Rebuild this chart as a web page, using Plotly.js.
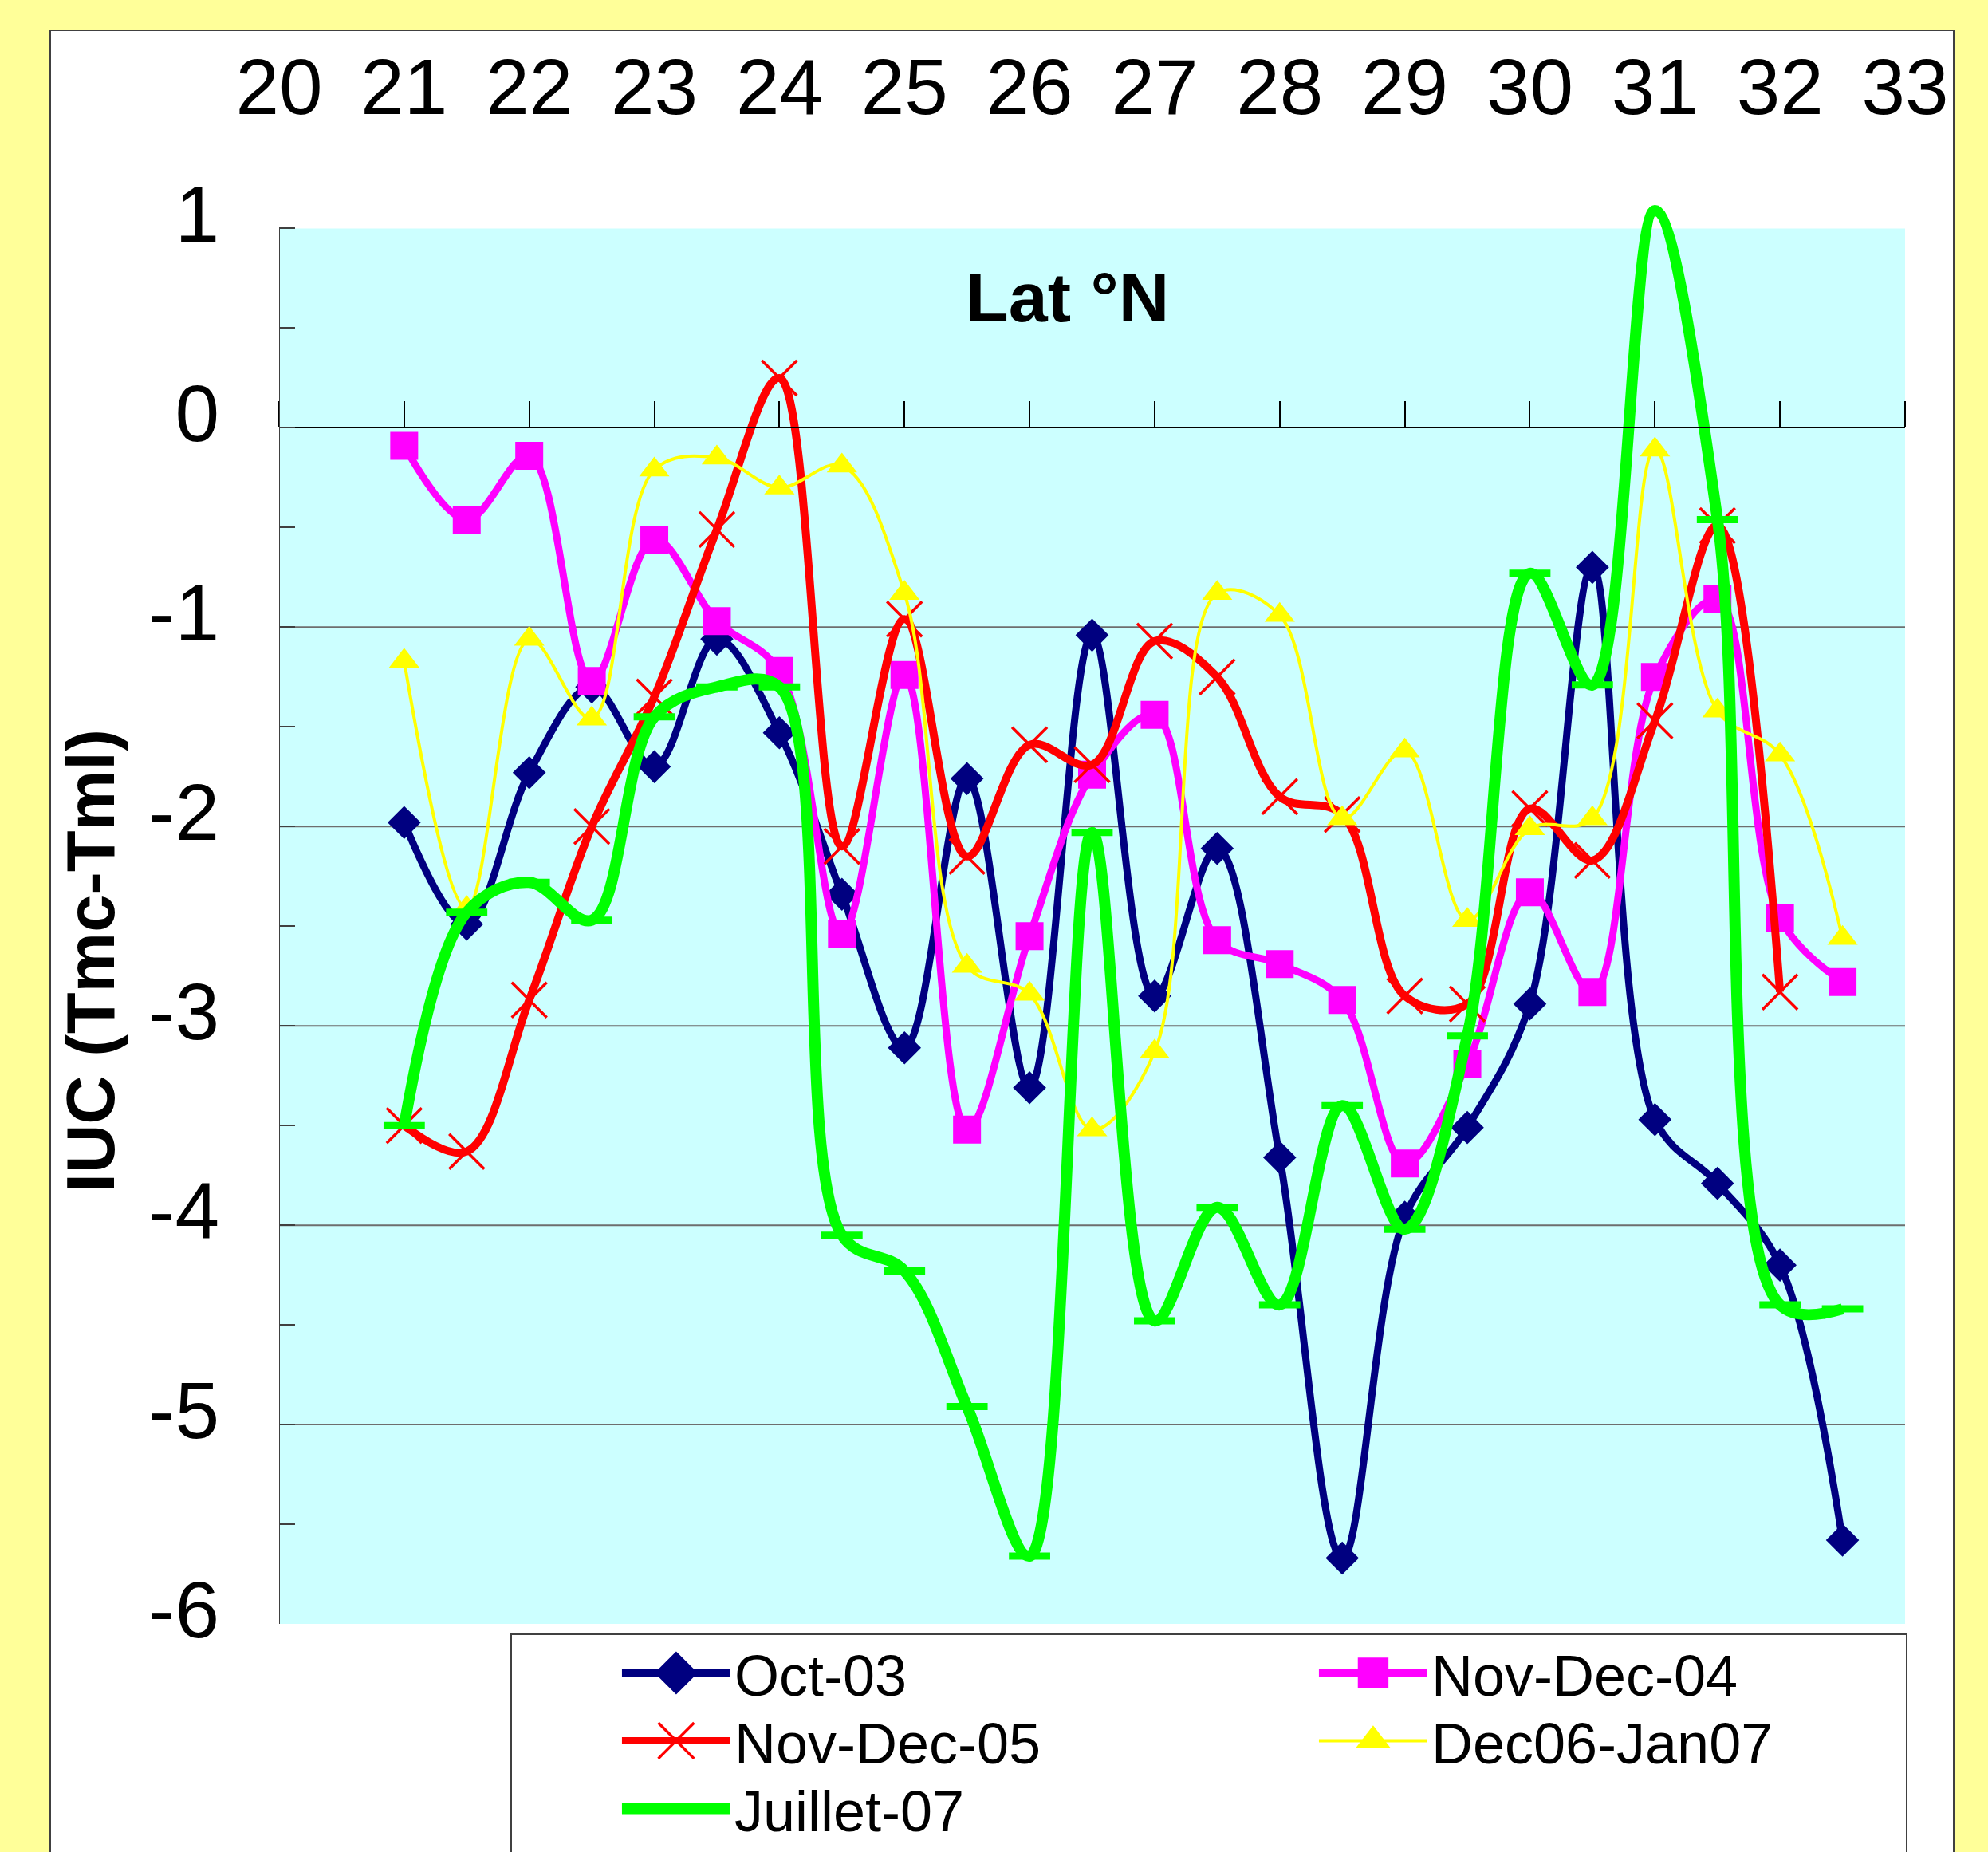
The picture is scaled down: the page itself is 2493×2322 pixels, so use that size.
<!DOCTYPE html>
<html>
<head>
<meta charset="utf-8">
<script src="https://cdn.plot.ly/plotly-3.0.1.min.js"></script>
<style>
  html, body { margin: 0; padding: 0; background: #FFFF99; overflow: hidden; width: 2493px; height: 2322px; }
  #frame { position: absolute; left: 62px; top: 37px; width: 2385px; height: 2400px;
           border: 2px solid #404040; background: #FFFFFF; }
  #chart { width: 2385px; height: 2400px; }
</style>
</head>
<body>
<div id="frame"><div id="chart"></div></div>
<script>
// ---- data ----
const latitudes = [21, 21.5, 22, 22.5, 23, 23.5, 24, 24.5, 25, 25.5, 26, 26.5,
                   27, 27.5, 28, 28.5, 29, 29.5, 30, 30.5, 31, 31.5, 32, 32.5];
const oct03      = [-1.98, -2.49, -1.73, -1.30, -1.70, -1.06, -1.53, -2.34, -3.11, -1.76, -3.31, -1.04,
                    -2.85, -2.11, -3.66, -5.67, -3.96, -3.51, -2.89, -0.70, -3.47, -3.79, -4.20, -5.58];
const novDec04   = [-0.09, -0.46, -0.14, -1.27, -0.56, -0.97, -1.22, -2.54, -1.24, -3.52, -2.55, -1.74,
                    -1.44, -2.57, -2.69, -2.87, -3.69, -3.19, -2.33, -2.83, -1.25, -0.86, -2.46, -2.78];
const novDec05   = [-3.50, -3.63, -2.87, -2.00, -1.35, -0.51, 0.25, -2.10, -0.96, -2.15, -1.59, -1.69,
                    -1.07, -1.25, -1.85, -1.94, -2.85, -2.89, -1.91, -2.17, -1.47, -0.49, -2.83, null];
const dec06Jan07 = [-1.17, -2.41, -1.06, -1.46, -0.21, -0.15, -0.30, -0.19, -0.83, -2.70, -2.84, -3.52,
                    -3.13, -0.83, -0.94, -1.96, -1.62, -2.47, -2.01, -1.96, -0.11, -1.42, -1.64, -2.56];
const juillet07  = [-3.50, -2.43, -2.28, -2.47, -1.45, -1.30, -1.30, -4.05, -4.23, -4.91, -5.66, -2.03,
                    -4.48, -3.91, -4.40, -3.40, -4.02, -3.05, -0.73, -1.29, 1.09, -0.46, -4.40, -4.42];
const seriesNames = ['Oct-03', 'Nov-Dec-04', 'Nov-Dec-05', 'Dec06-Jan07', 'Juillet-07'];
const latTicks = [20, 21, 22, 23, 24, 25, 26, 27, 28, 29, 30, 31, 32, 33];
const iucTicks = [-6, -5, -4, -3, -2, -1, 0, 1];
const gridValues = [-5, -4, -3, -2, -1];
const yTitle = 'IUC (Tmc-Tml)';
const latLabel = 'Lat °N';

// ---- styling ----
const FONT = 'Arial, "Liberation Sans", sans-serif';
const Y_MIN = -6, Y_TOP = 1, Y_MAX = 1.15;
const X_MIN = 20, X_MAX = 33;
const LEGEND_ROW_PITCH = 85;

const styles = [
  { color: '#000080', width: 9,  symbol: 'diamond',     size: 32, mline: 0, legScale: 2.6, legLine: 9 },
  { color: '#FF00FF', width: 9,  symbol: 'square',      size: 35, mline: 0, legScale: 2.4, legLine: 9 },
  { color: '#FF0000', width: 10, symbol: 'x-thin',      size: 44, mline: 3.5, legScale: 2.8, legLine: 9 },
  { color: '#FFFF00', width: 4,  symbol: 'triangle-up', size: 33, mline: 0, legScale: 2.4, legLine: 4 },
  { color: '#00FF00', width: 14, symbol: 'line-ew',     size: 37, mline: 9, legScale: 2.4, legLine: 14 }
];
const values = [oct03, novDec04, novDec05, dec06Jan07, juillet07];

const traces = values.map((vals, i) => {
  const s = styles[i];
  return {
    type: 'scatter', mode: 'lines+markers', name: seriesNames[i],
    x: latitudes, y: vals,
    line: { color: s.color, width: s.width, shape: 'spline', smoothing: 1 },
    marker: {
      symbol: s.symbol, size: s.size, color: s.color,
      opacity: vals.map(v => (v !== null && v > Y_TOP) ? 0 : 1),
      line: { color: s.color, width: s.mline }
    },
    hoverinfo: 'skip'
  };
});

const shapes = [
  { type: 'rect', xref: 'x', yref: 'y', x0: X_MIN, x1: X_MAX, y0: Y_MIN, y1: Y_TOP,
    fillcolor: '#CCFFFF', line: { width: 0 }, layer: 'below' }
].concat(gridValues.map(v => ({
    type: 'line', xref: 'x', yref: 'y', x0: X_MIN, x1: X_MAX, y0: v, y1: v,
    line: { color: '#6E6E6E', width: 2 }, layer: 'below' })))
 .concat([{ type: 'line', xref: 'x', yref: 'y', x0: X_MIN, x1: X_MIN, y0: Y_MIN, y1: Y_TOP,
    line: { color: '#404040', width: 2 }, layer: 'above' }]);

const zeroFrac = (0 - Y_MIN) / (Y_MAX - Y_MIN);

const layout = {
  width: 2385, height: 2400,
  margin: { l: 286, r: 60, t: 209.5, b: 402.5, pad: 0 },
  paper_bgcolor: '#FFFFFF', plot_bgcolor: '#FFFFFF',
  font: { family: FONT, color: '#000000', size: 72 },
  showlegend: true,
  xaxis: {
    range: [X_MIN, X_MAX], tickmode: 'array', tickvals: latTicks, ticktext: latTicks.map(String),
    side: 'top', anchor: 'free', position: zeroFrac,
    showline: true, linecolor: '#000000', linewidth: 2,
    ticks: 'outside', ticklen: 32, tickwidth: 2, tickcolor: '#000000',
    ticklabelstandoff: 321,
    showgrid: false, zeroline: false, fixedrange: true,
    tickfont: { family: FONT, size: 98, color: '#000000' }
  },
  yaxis: {
    range: [Y_MIN, Y_MAX], tickmode: 'array', tickvals: iucTicks, ticktext: iucTicks.map(String),
    ticks: 'inside', ticklen: 20, tickwidth: 2, tickcolor: '#404040',
    minor: { dtick: 0.5, tick0: 0, ticks: 'inside', ticklen: 20, tickwidth: 2, tickcolor: '#404040', showgrid: false },
    showline: false, showgrid: false, zeroline: false, fixedrange: true,
    ticklabelstandoff: 74, ticklabelshift: -18,
    tickfont: { family: FONT, size: 100, color: '#000000' }
  },
  shapes: shapes,
  annotations: [
    { text: yTitle, textangle: -90, xref: 'paper', yref: 'paper', x: -0.116, y: 0.4655,
      xanchor: 'center', yanchor: 'middle', showarrow: false,
      font: { family: FONT, size: 85, weight: 'bold', color: '#000000' } },
    { text: latLabel, xref: 'x', yref: 'y', x: 26.3, y: 0.655,
      xanchor: 'center', yanchor: 'middle', showarrow: false,
      font: { family: FONT, size: 88, weight: 'bold', color: '#000000' } }
  ],
  legend: {
    orientation: 'h', x: 0.1422, y: -0.0067, xanchor: 'left', yanchor: 'top',
    bgcolor: '#FFFFFF', bordercolor: '#404040', borderwidth: 2,
    font: { family: FONT, size: 72, color: '#000000' },
    itemwidth: 136, entrywidthmode: 'pixels', entrywidth: 590, indentation: 133,
    traceorder: 'normal', itemclick: false, itemdoubleclick: false
  }
};

const gd = document.getElementById('chart');
Plotly.newPlot(gd, traces, layout, { staticPlot: true, displayModeBar: false }).then(() => {
  const items = Array.from(gd.querySelectorAll('.legend .traces'));
  // enlarge legend symbols to match the reference proportions
  items.forEach((t, i) => {
    const s = styles[i];
    if (!s) return;
    t.querySelectorAll('.legendlines path').forEach(p => { p.style.strokeWidth = s.legLine + 'px'; });
    t.querySelectorAll('.legendpoints path.scatterpts').forEach(p => {
      const tr = p.getAttribute('transform') || '';
      p.setAttribute('transform', tr + ' scale(' + s.legScale + ')');
      p.style.vectorEffect = 'non-scaling-stroke';
      if (s.mline) p.style.strokeWidth = s.mline + 'px';
    });
  });
  // tighten legend rows (the reference uses a tighter line pitch than Plotly's default):
  // rows behave as if each entry were LEGEND_ROW_PITCH tall
  const re = /translate\(\s*([-\d.eE]+)[\s,]+([-\d.eE]+)\s*\)/;
  const pos = items.map(t => {
    const m = re.exec(t.getAttribute('transform') || '');
    return m ? [parseFloat(m[1]), parseFloat(m[2])] : null;
  });
  const rows = Array.from(new Set(pos.filter(Boolean).map(p => p[1]))).sort((a, b) => a - b);
  if (rows.length > 1) {
    const pitch = rows[1] - rows[0];
    const shift = (LEGEND_ROW_PITCH - pitch) / 2;
    items.forEach((t, i) => {
      const p = pos[i];
      if (!p) return;
      const r = rows.indexOf(p[1]);
      t.setAttribute('transform', 'translate(' + p[0] + ',' + (rows[0] + shift + r * LEGEND_ROW_PITCH) + ')');
    });
  }
});
</script>
</body>
</html>
